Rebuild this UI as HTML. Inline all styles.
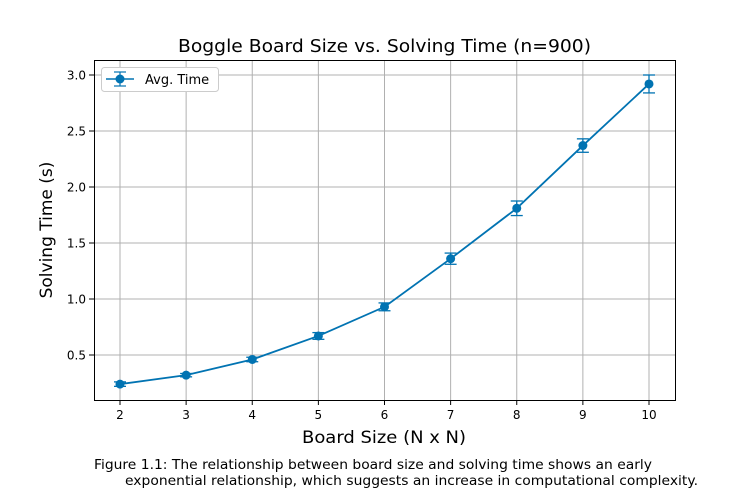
<!DOCTYPE html>
<html><head><meta charset="utf-8"><style>
body{margin:0;background:#fff;font-family:"DejaVu Sans","Liberation Sans",sans-serif}
svg text{font-family:"DejaVu Sans","Liberation Sans",sans-serif}
</style></head><body>
<svg id="chart" width="750" height="500" xmlns="http://www.w3.org/2000/svg">
<rect width="750" height="500" fill="#fff"/>
<g id="grid"></g>
<g id="axes"></g>
<g id="series"></g>
<rect x="94.5" y="60.5" width="581" height="340" fill="none" stroke="#000" stroke-width="1"/>
<text x="178" y="52" font-size="17.5" textLength="413" lengthAdjust="spacingAndGlyphs">Boggle Board Size vs. Solving Time (n=900)</text>
<text x="302" y="443" font-size="17" textLength="164" lengthAdjust="spacingAndGlyphs">Board Size (N x N)</text>
<text x="52" y="230" font-size="17" text-anchor="middle" transform="rotate(-90 52 230)">Solving Time (s)</text>
<g>
<rect x="101.5" y="67.5" width="117" height="24" rx="3" fill="#fff" stroke="#ccc"/>
<line x1="106" y1="79" x2="134" y2="79" stroke="#0173b2" stroke-width="1.6"/>
<line x1="120" y1="72" x2="120" y2="86" stroke="#0173b2" stroke-width="1.2"/>
<line x1="114" y1="72" x2="126" y2="72" stroke="#0173b2" stroke-width="1.2"/>
<line x1="114" y1="86" x2="126" y2="86" stroke="#0173b2" stroke-width="1.2"/>
<circle cx="120" cy="79" r="4.5" fill="#0173b2"/>
<text x="145" y="84" font-size="13">Avg. Time</text>
</g>
<text font-size="13.5"><tspan x="94" y="469" textLength="558" lengthAdjust="spacingAndGlyphs">Figure 1.1: The relationship between board size and solving time shows an early</tspan><tspan x="125" y="485" textLength="573" lengthAdjust="spacingAndGlyphs">exponential relationship, which suggests an increase in computational complexity.</tspan></text>
</svg>
<script>
const categories=[2,3,4,5,6,7,8,9,10];
const avgTime=[0.24,0.32,0.46,0.67,0.93,1.36,1.81,2.37,2.92];
const errors=[0.02,0.015,0.02,0.03,0.035,0.05,0.065,0.06,0.08];
const yTicks=[0.5,1.0,1.5,2.0,2.5,3.0];
const yTickLabels=["0.5","1.0","1.5","2.0","2.5","3.0"];
const NS="http://www.w3.org/2000/svg";
const xs=v=>120+(v-2)*66.125;
const ys=v=>411-v*112;
function mk(p,t,a){const e=document.createElementNS(NS,t);for(const k in a)e.setAttribute(k,a[k]);p.appendChild(e);return e;}
const grid=document.getElementById('grid'),axes=document.getElementById('axes'),ser=document.getElementById('series');
categories.forEach(c=>{
 const x=xs(c);
 const g=mk(grid,'line',{x1:x,x2:x,y1:61,y2:400,stroke:'#b0b0b0','stroke-width':1});
 
 
 mk(axes,'line',{x1:x,x2:x,y1:400,y2:405,stroke:'#000'});
 const t=mk(axes,'text',{x:x,y:419,'font-size':12,'text-anchor':'middle'});
 t.textContent=c;
 
 
});
yTicks.forEach((v,i)=>{
 const y=ys(v);
 const g=mk(grid,'line',{x1:95,x2:675,y1:y,y2:y,stroke:'#b0b0b0','stroke-width':1});
 
 
 mk(axes,'line',{x1:89,x2:94,y1:y,y2:y,stroke:'#000'});
 const t=mk(axes,'text',{x:86,y:y+4.5,'font-size':12,'text-anchor':'end'});
 t.textContent=yTickLabels[i];
 
 
});
const pts=categories.map((c,i)=>xs(c)+','+ys(avgTime[i])).join(' ');
const line=mk(ser,'polyline',{points:pts,fill:'none',stroke:'#0173b2','stroke-width':1.8});


categories.forEach((c,i)=>{
 const x=xs(c),y1=ys(avgTime[i]+errors[i]),y2=ys(avgTime[i]-errors[i]);
 const eb=mk(ser,'g',{stroke:'#0173b2','stroke-width':1.3});
 
 
 mk(eb,'line',{x1:x,x2:x,y1:y1,y2:y2});
 mk(eb,'line',{x1:x-6,x2:x+6,y1:y1,y2:y1});
 mk(eb,'line',{x1:x-6,x2:x+6,y1:y2,y2:y2});
 const p=mk(ser,'circle',{cx:x,cy:ys(avgTime[i]),r:4.5,fill:'#0173b2'});
 
 
});
</script>
</body></html>
